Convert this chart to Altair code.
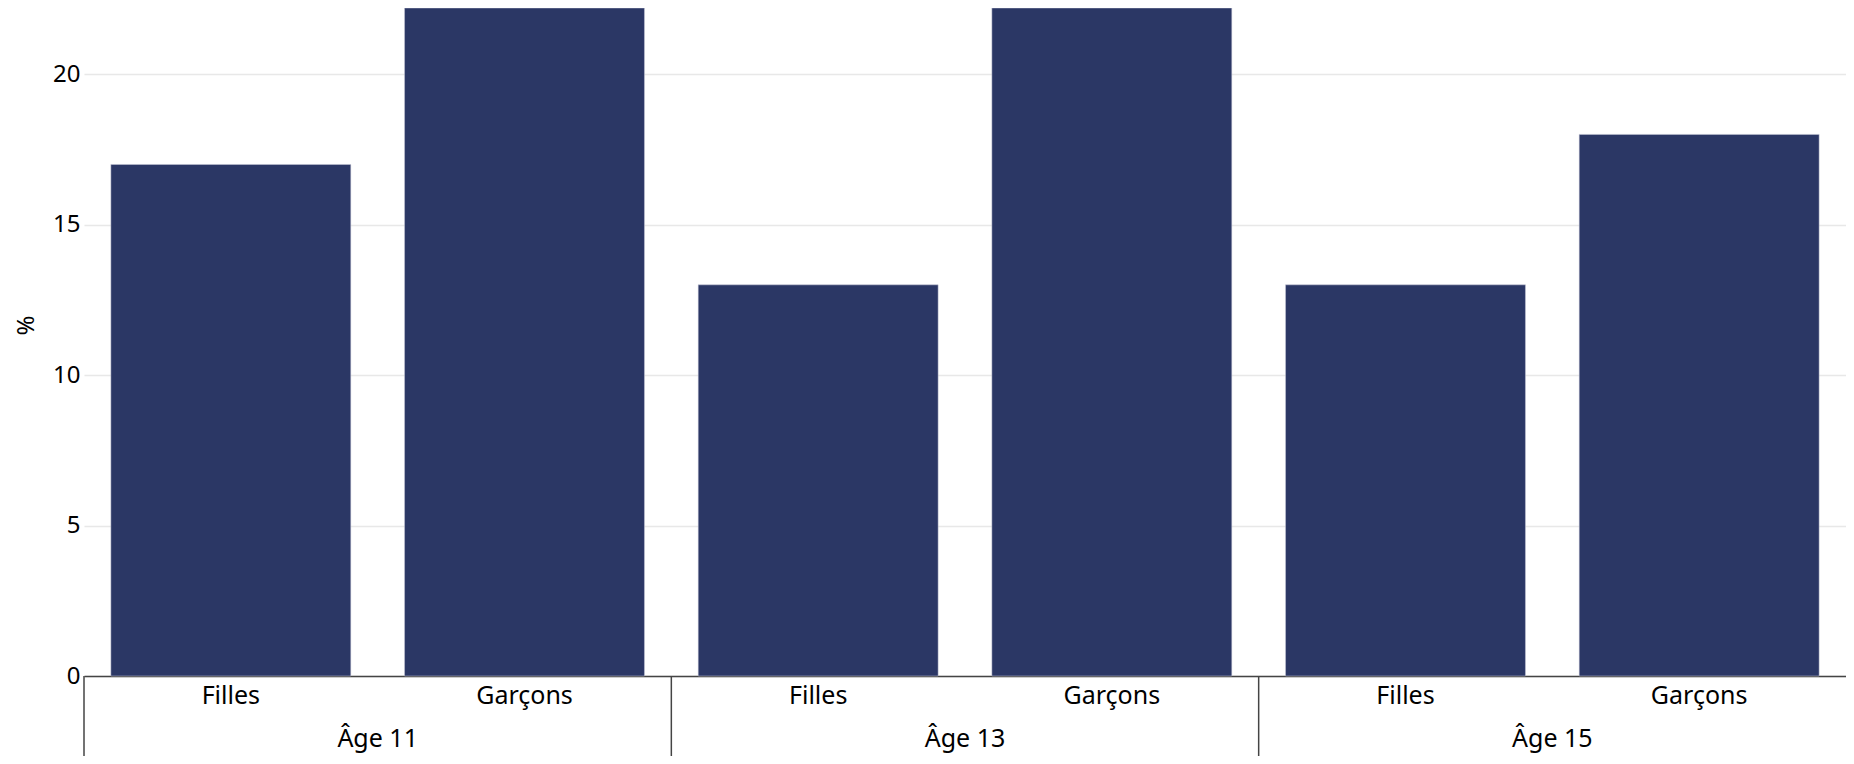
import altair as alt
import pandas as pd

ages = ["Âge 11", "Âge 11", "Âge 13", "Âge 13", "Âge 15", "Âge 15"]
sexes = ["Filles", "Garçons", "Filles", "Garçons", "Filles", "Garçons"]
values = [17, 22.2, 13, 22.2, 13, 18]
age_groups = ["Âge 11", "Âge 13", "Âge 15"]
y_ticks = [0, 5, 10, 15, 20]

df = pd.DataFrame({"age": ages, "sexe": sexes, "pct": values})
df["key"] = df["age"] + "|" + df["sexe"]
keys = list(df["key"])
grp = pd.DataFrame({"age": age_groups})

W, H = 1762, 668
FONT = "Noto Sans"
BAR = "#2b3765"
AXIS = "#444444"
FS = 24
FSX = 25

bars = alt.Chart(df).mark_bar(color=BAR, stroke="#c8cbd8", strokeWidth=0.5).encode(
    x=alt.X(
        "key:N", sort=keys, title=None,
        scale=alt.Scale(paddingInner=0.183, paddingOuter=0.0915),
        axis=alt.Axis(
            labelExpr="split(datum.label, '|')[1]", labelAngle=0, ticks=False,
            domainColor=AXIS, domainWidth=1.5, labelFontSize=FSX, labelPadding=7,
            labelColor="#000000", grid=False, labelFont=FONT,
        ),
    ),
    y=alt.Y(
        "pct:Q", title="%",
        scale=alt.Scale(domain=[0, 22.2], nice=False, zero=True),
        axis=alt.Axis(
            values=y_ticks, domain=False, ticks=False, gridColor="#e8e8e8",
            gridWidth=1.5, labelFontSize=FS, labelPadding=4, labelFont=FONT,
            labelColor="#000000", titleFont=FONT, titleColor="#000000",
            titleFontSize=FS, titleFontWeight="normal", titleX=-58, titleY=317,
            titleAngle=270, titleAlign="center", titleBaseline="middle",
        ),
    ),
)

seps = alt.Chart(grp).mark_rule(color=AXIS, strokeWidth=1.5).encode(
    x=alt.X("age:N", sort=age_groups, bandPosition=0,
            scale=alt.Scale(paddingInner=0, paddingOuter=0), axis=None),
    y=alt.value(H),
    y2=alt.value(H + 80),
)

labels = alt.Chart(grp).mark_text(fontSize=FSX, font=FONT, baseline="middle",
                                  color="#000000").encode(
    x=alt.X("age:N", sort=age_groups,
            scale=alt.Scale(paddingInner=0, paddingOuter=0), axis=None),
    y=alt.value(731),
    text="age:N",
)

chart = (
    alt.layer(bars, seps, labels)
    .resolve_scale(x="independent")
    .properties(
        width=W, height=H,
        autosize=alt.AutoSizeParams(type="none"),
        padding={"left": 76, "top": 0, "right": 0, "bottom": 80},
        background="white",
    )
    .configure_view(stroke=None)
)

chart.save("out.html", embed_options={"renderer": "svg", "actions": False})
